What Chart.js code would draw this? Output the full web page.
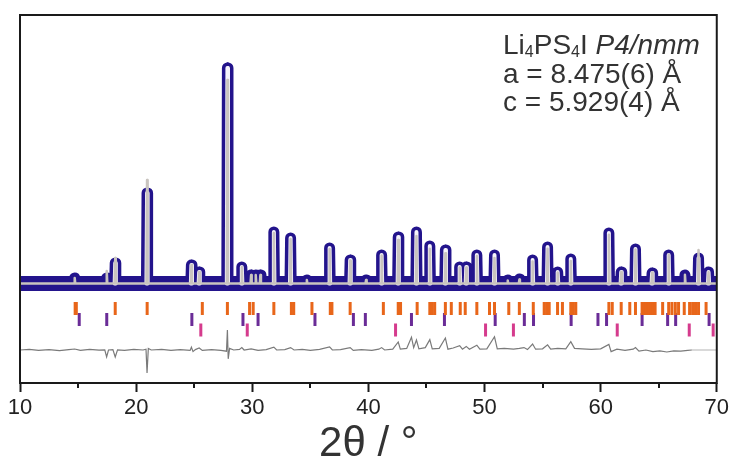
<!DOCTYPE html>
<html>
<head>
<meta charset="utf-8">
<script src="https://cdn.jsdelivr.net/npm/chart.js@4.4.1/dist/chart.umd.min.js"></script>
<style>
  body { margin: 0; background: #fff; }
  #wrap { position: relative; width: 732px; height: 462px; }
  #note {
    position: absolute; left: 503px; top: 31px;
    font-family: "Liberation Sans", Arial, sans-serif;
    font-size: 28px; line-height: 28.5px; color: #333; white-space: nowrap;
  }
  #note sub { font-size: 16px; line-height: 0; vertical-align: -3px; }
</style>
</head>
<body>
<div id="wrap">
  <canvas id="rietveld" width="732" height="462"></canvas>
  <div id="note">Li<sub>4</sub>PS<sub>4</sub>I <i>P4/nmm</i><br>a = 8.475(6) Å<br>c = 5.929(4) Å</div>
</div>
<script>
// --- données (2θ en °, intensité en unités arbitraires) ---
const background = 10;

// pics : position, intensité observée, intensité calculée
const peakPos  = [14.71, 17.47, 18.2, 20.94, 24.76, 25.43, 27.86, 29.1, 29.9, 30.3, 30.7, 31.86, 33.3, 34.7, 36.66, 38.43, 39.8,
                  41.14, 42.57, 44.14, 45.29, 46.63, 47.86, 48.43, 49.34, 50.86, 52.0, 53.0, 54.14, 55.43, 56.3, 57.43,
                  60.71, 61.77, 63.0, 64.43, 65.86, 67.26, 68.43, 69.29];
const peakObs  = [150, 150, 525, 2275, 475, 300, 5400, 425, 225, 225, 225, 1300, 1150, 100, 900, 600, 100,
                  725, 1175, 1300, 950, 850, 425, 425, 725, 725, 100, 125, 600, 925, 300, 625,
                  1275, 300, 875, 275, 725, 225, 650, 300];
const peakCalc = [150, 325, 650, 2600, 475, 300, 5100, 425, 225, 225, 225, 1275, 1125, 100, 875, 590, 100,
                  710, 1100, 1200, 880, 770, 410, 410, 700, 650, 90, 110, 560, 880, 290, 575,
                  1230, 300, 860, 285, 735, 230, 850, 300];

// positions des réflexions (trois rangées de traits)
const reflMain = [14.75, 14.85, 18.2, 20.95, 25.7, 27.86, 29.77, 30.08, 31.86, 33.37, 33.57, 35.14, 36.72, 36.86, 38.43,
                  41.29, 42.57, 42.77, 44.2, 45.29, 45.5, 45.71, 46.63, 47.14, 47.91, 48.34, 49.34, 50.43, 50.86,
                  52.09, 53.0, 54.2, 55.14, 55.35, 55.57, 56.29, 56.71, 57.43, 57.65, 57.86, 60.71, 61.0, 61.77,
                  62.51, 63.0, 63.57, 63.75, 63.9, 64.05, 64.2, 64.35, 64.5, 64.69, 65.34, 65.86, 66.14, 66.43,
                  66.71, 67.2, 67.66, 67.92, 68.17, 68.43, 69.08];
const reflSecond = [15.1, 17.47, 24.8, 29.2, 30.5, 35.4, 38.71, 39.74, 43.71, 46.55, 50.92, 53.43, 54.22, 57.46,
                    59.77, 60.51, 63.57, 65.77, 66.46, 69.34];
const reflThird = [25.57, 29.57, 42.34, 50.09, 52.49, 61.43, 67.63, 69.69];

// courbe différence (obs - calc)
const diffX = [10, 10.8, 11.6, 12.5, 13.4, 14.2, 14.71, 15.2, 16, 16.8, 17.3, 17.46, 17.62, 18.0, 18.2, 18.4, 19.0, 19.8,
               20.6, 20.85, 20.94, 21.05, 21.3, 22.2, 23.0, 23.8, 24.65, 24.76, 24.9, 25.1, 25.43, 25.7, 26.5, 27.3,
               27.78, 27.86, 27.93, 28.05, 28.4, 28.9, 29.1, 29.3, 29.9, 30.5, 31.2, 31.86, 32.1, 32.8, 33.3, 33.6,
               34.3, 35.0, 35.8, 36.66, 36.9, 37.6, 38.43, 38.7, 39.4, 40.3, 40.9, 41.14, 41.4, 42.1, 42.57, 42.75,
               43.3, 43.71, 43.9, 44.14, 44.35, 44.9, 45.29, 45.5, 46.1, 46.63, 46.85, 47.3, 47.86, 48.1, 48.43, 48.7,
               49.34, 49.6, 50.2, 50.86, 51.1, 51.7, 52.5, 53.0, 53.4, 53.7, 54.14, 54.4, 55.0, 55.43, 55.7, 56.3,
               57.0, 57.43, 57.75, 58.4, 59.2, 60.0, 60.71, 60.9, 61.4, 62.1, 62.8, 63.0, 63.3, 63.9, 64.5, 65.1,
               65.7, 66.3, 66.9, 67.5, 67.86, 70];
const diffY = [0, 15, -10, 10, -15, 10, 25, -10, 15, -5, 5, -175, 0, 10, -175, 5, -10, 15,
               0, 20, -575, 40, 0, 15, -10, 10, -10, 70, -40, 10, 50, -10, 10, -10,
               -30, 500, -220, 40, 0, 15, 60, 0, 30, -10, 10, 70, 0, 10, 60, 0,
               15, -10, 15, 80, 0, 10, 60, -10, 10, -10, 20, 60, 0, 20, 200, 20,
               40, 320, 60, 250, 30, 60, 260, 30, 40, 300, 20, 50, 110, 20, 90, 20,
               120, 20, 30, 330, 30, 40, 20, 40, 60, 10, 150, 20, 30, 130, 20, 40,
               30, 210, 40, 30, 15, 30, 140, -40, 20, -10, 20, 60, -30, 0, -40, -20,
               -50, -20, -30, -10, 0, 0];

const rowMain = -612, rowSecond = -888, rowThird = -1150, diffOffset = -1650;

// --- construction des jeux de données ---
function profile(heights) {
    const pts = [{ x: 10, y: background }];
    peakPos.forEach((p, i) => {
        pts.push({ x: p - 0.05, y: background }, { x: p, y: heights[i] }, { x: p + 0.05, y: background });
    });
    pts.push({ x: 70, y: background });
    return pts;
}
// intérieur clair des pics observés (seulement les pics assez hauts)
function innerProfile(heights) {
    const pts = [];
    peakPos.forEach((p, i) => {
        if (heights[i] < 250) return;
        pts.push({ x: p - 0.05, y: background }, { x: p, y: heights[i] }, { x: p + 0.05, y: background }, { x: p + 0.06, y: null });
    });
    return pts;
}
const obsPts = profile(peakObs);
const calcPts = profile(peakCalc);
const innerPts = innerProfile(peakObs);
const bandPts = [{ x: 10, y: background }, { x: 70, y: background }];
const diffPts = diffX.map((x, i) => ({ x: x, y: diffY[i] + diffOffset }));
const row = (list, y) => list.map(x => ({ x: x, y: y }));

const tickSet = (data, color) => ({
    type: 'scatter', data: data, showLine: false,
    pointStyle: 'line', rotation: 90, radius: 6.5, borderWidth: 3,
    borderColor: color, backgroundColor: color, order: 5
});

// cadre + petites graduations
const framePlugin = {
    id: 'frame',
    afterDraw(chart) {
        const { ctx, chartArea: a, scales: { x } } = chart;
        ctx.save();
        ctx.strokeStyle = '#1a1a1a';
        ctx.lineWidth = 2;
        ctx.strokeRect(a.left, a.top, a.right - a.left, a.bottom - a.top);
        for (let v = 15; v < 70; v += 10) {
            const px = Math.round(x.getPixelForValue(v));
            ctx.beginPath();
            ctx.moveTo(px, a.bottom);
            ctx.lineTo(px, a.bottom + 5);
            ctx.stroke();
        }
        ctx.restore();
    }
};

const navy = '#23148c';

new Chart(document.getElementById('rietveld').getContext('2d'), {
    type: 'line',
    data: {
        datasets: [
            { data: calcPts, borderColor: '#c9c4bf', borderWidth: 2.5, pointRadius: 0,
              borderJoinStyle: 'round', borderCapStyle: 'round', clip: 0, order: 1 },
            { data: innerPts, borderColor: '#f6f4fb', borderWidth: 4, pointRadius: 0, spanGaps: false,
              borderJoinStyle: 'round', borderCapStyle: 'round', clip: 0, order: 2 },
            { data: obsPts, borderColor: navy, borderWidth: 11, pointRadius: 0,
              borderJoinStyle: 'round', borderCapStyle: 'butt', clip: 0, order: 3 },
            { data: bandPts, borderColor: navy, borderWidth: 15, pointRadius: 0, clip: 0, order: 4 },
            tickSet(row(reflMain, rowMain), '#e8661a'),
            tickSet(row(reflSecond, rowSecond), '#6a2c97'),
            tickSet(row(reflThird, rowThird), '#d53b8d'),
            { data: diffPts, borderColor: '#7a7a7a', borderWidth: 1.2, pointRadius: 0, order: 6,
              segment: { borderColor: c => c.p0.parsed.x >= 67.86 ? '#b3b3b3' : '#7a7a7a' } }
        ]
    },
    options: {
        responsive: false,
        animation: false,
        devicePixelRatio: 1,
        layout: { padding: { left: 20, right: 12, top: 15, bottom: 0 } },
        plugins: { legend: { display: false }, tooltip: { enabled: false } },
        scales: {
            x: {
                type: 'linear', min: 10, max: 70,
                border: { display: false },
                grid: {
                    drawOnChartArea: false, drawTicks: true, tickLength: 9, tickWidth: 2,
                    tickColor: c => (c.tick && c.tick.value % 10 === 0) ? '#1a1a1a' : 'rgba(0,0,0,0)'
                },
                ticks: {
                    stepSize: 5, autoSkip: false, maxRotation: 0, padding: 3,
                    color: '#222', font: { family: 'Liberation Sans', size: 22 },
                    callback: v => v % 10 === 0 ? v : ''
                },
                title: {
                    display: true, text: '2θ / °', color: '#333',
                    font: { family: 'Liberation Sans', size: 42, lineHeight: '36px' },
                    padding: { top: 1.6, bottom: 0 }
                }
            },
            y: { display: false, min: -2475, max: 6725 }
        }
    },
    plugins: [framePlugin]
});
</script>
</body>
</html>
